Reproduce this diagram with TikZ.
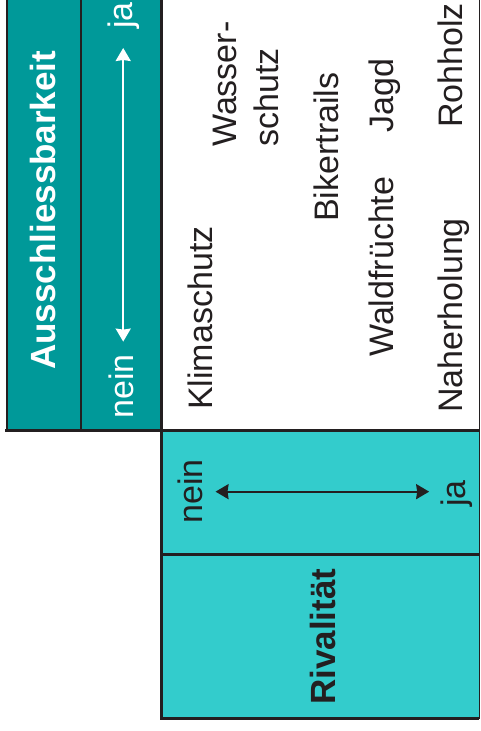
\documentclass[tikz,border=0pt]{standalone}
\usepackage{fontspec}
\setmainfont{Liberation Sans}
\usetikzlibrary{arrows.meta}
\definecolor{petrol}{HTML}{009999}
\definecolor{tuerkis}{HTML}{33CCCC}
\definecolor{linie}{HTML}{231F20}

\begin{document}
\begin{tikzpicture}[x=1pt, y=1pt,
		wort/.style={rotate=90, anchor=base west, inner sep=0pt, text=linie, font=\fontsize{34}{42}\selectfont},
		titel/.style={wort, font=\fontsize{35}{42}\selectfont\bfseries},
		duenn/.style={draw=linie, line width=1.5pt},
		dick/.style={draw=linie, line width=3pt},
		pfeil/.style={line width=2pt, {Stealth[length=13pt,width=15pt,inset=1pt]}-{Stealth[length=13pt,width=15pt,inset=1pt]}}]
		\useasboundingbox (0,0) rectangle (481,731);
		
		% Flaechen
		\fill[petrol] (7,300) rectangle (161,731);
		\fill[tuerkis] (161,12) rectangle (479,300);
		
		% Rahmen
		\draw[duenn] (7,300) -- (7,731);
		\draw[duenn] (81,300) -- (81,731);
		\draw[draw=linie, line width=1pt] (479,12) -- (479,731);
		\draw[dick] (5,300) -- (479,300);
		\draw[dick] (161,176) -- (479,176);
		\draw[dick] (479,12) -- (161,12) -- (161,731);
		
		% Ausschliessbarkeit
		\node[titel, text=white] (aus) at (55,361) {Ausschliessbarkeit};
		\node[wort, text=white] (neinA) at (133,312) {nein};
		\node[wort, text=white] (jaA) at (132,702) {ja};
		\draw[pfeil, white, shorten <=12.7pt, shorten >=19pt] (jaA.west |- neinA.east) -- (jaA.west);
		
		% Rivalitaet
		\node[wort] (neinB) at (202,207) {nein};
		\node[wort] (jaB) at (465,224) {ja};
		\draw[pfeil, linie, shorten <=13pt, shorten >=11pt] (neinB.south) -- (neinB.south -| jaB.north);
		\node[titel] (riv) at (335,26) {Rivalität};
		
		% Gueter
		\node[wort] (klima) at (212,321) {Klimaschutz};
		\node[wort, anchor=north west, align=left] (wasser) at (213,584) {Wasser-\\schutz};
		\node[wort] (biker) at (338,509) {Bikertrails};
		\node[wort] (wald) at (393,374) {Waldfrüchte};
		\node[wort] (jagd) at (393,598) {Jagd};
		\node[wort] (nah) at (462,318) {Naherholung};
		\node[wort] (roh) at (462,603) {Rohholz};
	\end{tikzpicture}
\end{document}
